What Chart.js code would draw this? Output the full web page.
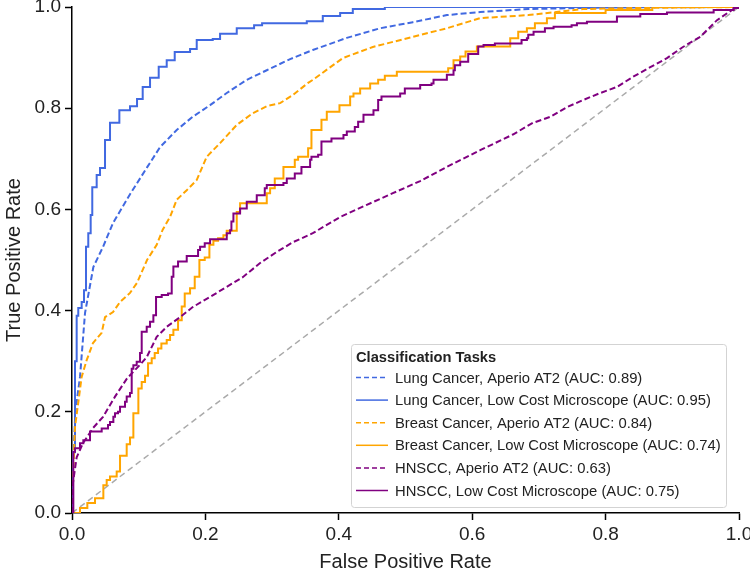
<!DOCTYPE html>
<html lang="en">
<head>
  <meta charset="UTF-8">
  <title>ROC curves</title>
  <script src="https://cdn.jsdelivr.net/npm/chart.js@4"></script>
  <style>
    body { margin: 0; background: #fff; }
    #wrap { width: 750px; height: 575px; }
  </style>
</head>
<body>
<div id="wrap"><canvas id="roc" width="750" height="575"></canvas></div>
<script>
  // axis ticks
  const xTicks = [0, 0.2, 0.4, 0.6, 0.8, 1.0];
  const yTicks = [0, 0.2, 0.4, 0.6, 0.8, 1.0];

  const legendTitle = 'Classification Tasks';
  const seriesLabels = [
    'Lung Cancer, Aperio AT2 (AUC: 0.89)',
    'Lung Cancer, Low Cost Microscope (AUC: 0.95)',
    'Breast Cancer, Aperio AT2 (AUC: 0.84)',
    'Breast Cancer, Low Cost Microscope (AUC: 0.74)',
    'HNSCC, Aperio AT2 (AUC: 0.63)',
    'HNSCC, Low Cost Microscope (AUC: 0.75)'
  ];

  // chance line
  const chanceFpr = [0, 1];
  const chanceTpr = [0, 1];

  // Lung, Aperio AT2
  const lungAperioFpr = [0, 0.002, 0.005, 0.012, 0.0195, 0.032, 0.0465, 0.0615, 0.087, 0.113, 0.132, 0.157, 0.181, 0.207, 0.232, 0.262, 0.292, 0.327, 0.361, 0.412, 0.462, 0.511, 0.562, 0.612, 0.684, 0.8, 1];
  const lungAperioTpr = [0, 0.1, 0.2, 0.269, 0.395, 0.486, 0.526, 0.573, 0.63, 0.684, 0.723, 0.757, 0.783, 0.806, 0.83, 0.856, 0.875, 0.897, 0.915, 0.939, 0.958, 0.97, 0.984, 0.99, 0.996, 0.999, 1];

  // Lung, low cost microscope (step curve)
  const lungLowFpr = [0, 0, 0.0045, 0.007, 0.0094, 0.0145, 0.018, 0.021, 0.0244, 0.028, 0.0304, 0.037, 0.042, 0.0495, 0.057, 0.071, 0.087, 0.0975, 0.106, 0.117, 0.13, 0.142, 0.154, 0.177, 0.187, 0.211, 0.222, 0.247, 0.273, 0.285, 0.352, 0.376, 0.402, 0.421, 0.469, 1];
  const lungLowTpr = [0, 0.12, 0.30, 0.39, 0.405, 0.417, 0.44, 0.526, 0.553, 0.589, 0.644, 0.668, 0.682, 0.737, 0.771, 0.796, 0.804, 0.818, 0.842, 0.86, 0.882, 0.895, 0.911, 0.917, 0.935, 0.937, 0.947, 0.958, 0.964, 0.968, 0.972, 0.982, 0.988, 0.996, 1, 1];

  // Breast, Aperio AT2
  const breastAperioFpr = [0, 0.003, 0.0045, 0.0145, 0.022, 0.0315, 0.0445, 0.0495, 0.0615, 0.072, 0.087, 0.0975, 0.1125, 0.127, 0.136, 0.147, 0.157, 0.172, 0.187, 0.202, 0.222, 0.247, 0.271, 0.292, 0.312, 0.331, 0.354, 0.361, 0.406, 0.451, 0.511, 0.562, 0.612, 0.684, 0.766, 0.847, 1];
  const breastAperioTpr = [0, 0.12, 0.17, 0.269, 0.302, 0.336, 0.356, 0.387, 0.397, 0.417, 0.435, 0.455, 0.5, 0.53, 0.56, 0.585, 0.619, 0.638, 0.658, 0.704, 0.731, 0.767, 0.79, 0.804, 0.81, 0.826, 0.85, 0.856, 0.899, 0.921, 0.941, 0.958, 0.978, 0.984, 0.996, 0.998, 1];

  // Breast, low cost microscope (step curve)
  const breastLowFpr = [0, 0.012, 0.023, 0.0345, 0.047, 0.052, 0.057, 0.067, 0.072, 0.082, 0.087, 0.092, 0.0995, 0.1045, 0.1095, 0.114, 0.1195, 0.124, 0.129, 0.134, 0.142, 0.147, 0.152, 0.159, 0.1645, 0.169, 0.177, 0.184, 0.191, 0.199, 0.206, 0.212, 0.219, 0.227, 0.232, 0.247, 0.252, 0.292, 0.297, 0.304, 0.317, 0.334, 0.339, 0.354, 0.359, 0.374, 0.382, 0.401, 0.417, 0.422, 0.432, 0.447, 0.459, 0.469, 0.487, 0.564, 0.572, 0.582, 0.59, 0.607, 0.657, 0.669, 0.682, 0.694, 0.712, 0.724, 0.8, 0.87, 1];
  const breastLowTpr = [0, 0.01, 0.02, 0.029, 0.055, 0.065, 0.072, 0.082, 0.113, 0.136, 0.149, 0.197, 0.246, 0.259, 0.271, 0.296, 0.306, 0.316, 0.325, 0.335, 0.342, 0.352, 0.362, 0.381, 0.408, 0.434, 0.444, 0.467, 0.5, 0.505, 0.53, 0.538, 0.543, 0.549, 0.558, 0.595, 0.612, 0.632, 0.642, 0.661, 0.684, 0.698, 0.704, 0.721, 0.757, 0.777, 0.793, 0.806, 0.823, 0.829, 0.839, 0.849, 0.856, 0.864, 0.872, 0.879, 0.895, 0.902, 0.912, 0.922, 0.938, 0.951, 0.958, 0.968, 0.978, 0.988, 0.994, 1, 1];

  // HNSCC, Aperio AT2
  const hnsccAperioFpr = [0, 0.0015, 0.007, 0.0165, 0.0315, 0.0465, 0.0645, 0.0825, 0.102, 0.112, 0.127, 0.142, 0.162, 0.181, 0.207, 0.232, 0.256, 0.282, 0.307, 0.331, 0.361, 0.402, 0.442, 0.481, 0.522, 0.562, 0.612, 0.661, 0.691, 0.717, 0.742, 0.766, 0.792, 0.817, 0.841, 0.867, 0.892, 0.916, 0.942, 0.967, 0.994, 1];
  const hnsccAperioTpr = [0, 0.06, 0.11, 0.138, 0.168, 0.19, 0.23, 0.266, 0.293, 0.308, 0.348, 0.368, 0.387, 0.407, 0.427, 0.447, 0.466, 0.494, 0.516, 0.535, 0.553, 0.585, 0.609, 0.632, 0.656, 0.684, 0.717, 0.748, 0.771, 0.783, 0.802, 0.816, 0.83, 0.842, 0.862, 0.881, 0.899, 0.921, 0.941, 0.974, 0.998, 1];

  // HNSCC, low cost microscope (step curve)
  const hnsccLowFpr = [0, 0.002, 0.0045, 0.012, 0.017, 0.027, 0.0445, 0.054, 0.057, 0.062, 0.0645, 0.069, 0.072, 0.0795, 0.082, 0.087, 0.0895, 0.092, 0.097, 0.102, 0.1045, 0.112, 0.117, 0.122, 0.126, 0.1345, 0.144, 0.1495, 0.152, 0.159, 0.172, 0.189, 0.192, 0.199, 0.207, 0.232, 0.237, 0.239, 0.242, 0.252, 0.262, 0.277, 0.289, 0.292, 0.317, 0.322, 0.334, 0.344, 0.357, 0.359, 0.369, 0.374, 0.389, 0.407, 0.412, 0.424, 0.429, 0.437, 0.452, 0.459, 0.464, 0.492, 0.499, 0.522, 0.539, 0.542, 0.562, 0.572, 0.574, 0.582, 0.594, 0.609, 0.617, 0.634, 0.674, 0.682, 0.684, 0.692, 0.709, 0.722, 0.749, 0.757, 0.772, 0.817, 0.852, 0.892, 0.962, 0.992, 1];
  const hnsccLowTpr = [0, 0.121, 0.128, 0.138, 0.144, 0.161, 0.167, 0.174, 0.18, 0.19, 0.197, 0.2, 0.21, 0.22, 0.23, 0.237, 0.285, 0.292, 0.299, 0.316, 0.358, 0.368, 0.378, 0.391, 0.427, 0.431, 0.434, 0.467, 0.487, 0.497, 0.508, 0.52, 0.526, 0.533, 0.541, 0.553, 0.559, 0.576, 0.592, 0.602, 0.615, 0.628, 0.642, 0.648, 0.652, 0.661, 0.671, 0.684, 0.698, 0.704, 0.708, 0.734, 0.74, 0.747, 0.754, 0.763, 0.773, 0.787, 0.796, 0.816, 0.823, 0.829, 0.839, 0.846, 0.849, 0.856, 0.866, 0.875, 0.885, 0.892, 0.907, 0.922, 0.925, 0.928, 0.935, 0.938, 0.945, 0.951, 0.958, 0.961, 0.964, 0.968, 0.971, 0.981, 0.986, 0.989, 0.994, 0.998, 1];

  const FONT = "'Liberation Sans', Arial, sans-serif";
  const BLUE = '#4169e1', ORANGE = '#ffa500', PURPLE = '#800080';

  function pts(fpr, tpr) {
    return fpr.map((x, i) => ({ x: x, y: tpr[i] }));
  }

  function curve(label, fpr, tpr, color, dashed, stepped, order) {
    return {
      label: label,
      data: pts(fpr, tpr),
      borderColor: color,
      backgroundColor: color,
      borderWidth: 2,
      borderDash: dashed ? [6, 3] : [],
      stepped: stepped ? 'before' : false,
      pointRadius: 0,
      fill: false,
      tension: 0,
      order: order
    };
  }

  const datasets = [
    {
      label: 'chance',
      data: pts(chanceFpr, chanceTpr),
      borderColor: '#aaaaaa',
      borderWidth: 1.5,
      borderDash: [6, 4],
      pointRadius: 0,
      fill: false,
      order: 10
    },
    curve(seriesLabels[0], lungAperioFpr, lungAperioTpr, BLUE, true, false, 6),
    curve(seriesLabels[1], lungLowFpr, lungLowTpr, BLUE, false, true, 5),
    curve(seriesLabels[2], breastAperioFpr, breastAperioTpr, ORANGE, true, false, 4),
    curve(seriesLabels[3], breastLowFpr, breastLowTpr, ORANGE, false, true, 3),
    curve(seriesLabels[4], hnsccAperioFpr, hnsccAperioTpr, PURPLE, true, false, 2),
    curve(seriesLabels[5], hnsccLowFpr, hnsccLowTpr, PURPLE, false, true, 1)
  ];

  // legend box drawn inside the plot, bottom right
  const boxLegend = {
    id: 'boxLegend',
    afterDraw(chart) {
      const ctx = chart.ctx;
      const area = chart.chartArea;
      const w = 375, h = 163;
      const x0 = area.right - 13 - w;
      const y0 = area.bottom - 6 - h;
      ctx.save();
      ctx.beginPath();
      ctx.roundRect(x0 + 0.5, y0 + 0.5, w, h, 3);
      ctx.fillStyle = 'rgba(255,255,255,0.85)';
      ctx.fill();
      ctx.strokeStyle = '#d3d3d3';
      ctx.lineWidth = 1;
      ctx.stroke();

      ctx.fillStyle = '#222';
      ctx.textBaseline = 'middle';
      ctx.textAlign = 'left';
      ctx.font = 'bold 14.7px ' + FONT;
      ctx.fillText(legendTitle, x0 + 5, y0 + 14);

      ctx.font = '14.8px ' + FONT;
      chart.data.datasets.slice(1).forEach((ds, i) => {
        const y = y0 + 33.5 + i * 22.6;
        ctx.beginPath();
        ctx.setLineDash(ds.borderDash.length ? [5, 3] : []);
        ctx.strokeStyle = ds.borderColor;
        ctx.lineWidth = 1.5;
        ctx.moveTo(x0 + 5, y);
        ctx.lineTo(x0 + 37, y);
        ctx.stroke();
        ctx.setLineDash([]);
        ctx.fillStyle = '#222';
        ctx.fillText(ds.label, x0 + 44, y + 1);
      });
      ctx.restore();
    }
  };

  new Chart(document.getElementById('roc'), {
    type: 'line',
    data: { datasets: datasets },
    options: {
      responsive: false,
      devicePixelRatio: 1,
      animation: false,
      layout: { padding: { top: 7, right: 11, bottom: 0, left: 0 } },
      plugins: {
        legend: { display: false },
        tooltip: { enabled: false }
      },
      scales: {
        x: {
          type: 'linear',
          min: 0,
          max: 1,
          afterBuildTicks: s => { s.ticks = xTicks.map(v => ({ value: v })); },
          afterFit: s => { s.height = 62; s.paddingLeft = 0; s.paddingRight = 0; },
          ticks: {
            callback: v => v.toFixed(1),
            font: { family: FONT, size: 19 },
            color: '#222',
            padding: 3,
            maxRotation: 0
          },
          grid: { display: true, drawOnChartArea: false, drawTicks: true, tickLength: 7, tickWidth: 1.5, tickColor: '#000' },
          border: { display: true, color: '#000', width: 1.5 },
          title: {
            display: true,
            text: 'False Positive Rate',
            font: { family: FONT, size: 20 },
            color: '#222',
            padding: { top: 0, bottom: 1 }
          }
        },
        y: {
          type: 'linear',
          min: 0,
          max: 1,
          afterBuildTicks: s => { s.ticks = yTicks.map(v => ({ value: v })); },
          afterFit: s => { s.width = 72; s.paddingTop = 0; s.paddingBottom = 0; },
          ticks: {
            callback: v => v.toFixed(1),
            font: { family: FONT, size: 19 },
            color: '#222',
            padding: 4
          },
          grid: { display: true, drawOnChartArea: false, drawTicks: true, tickLength: 7, tickWidth: 1.5, tickColor: '#000' },
          border: { display: true, color: '#000', width: 1.5 },
          title: {
            display: true,
            text: 'True Positive Rate',
            font: { family: FONT, size: 20 },
            color: '#222',
            padding: { top: 2, bottom: 0 }
          }
        }
      }
    },
    plugins: [boxLegend]
  });
</script>
</body>
</html>
